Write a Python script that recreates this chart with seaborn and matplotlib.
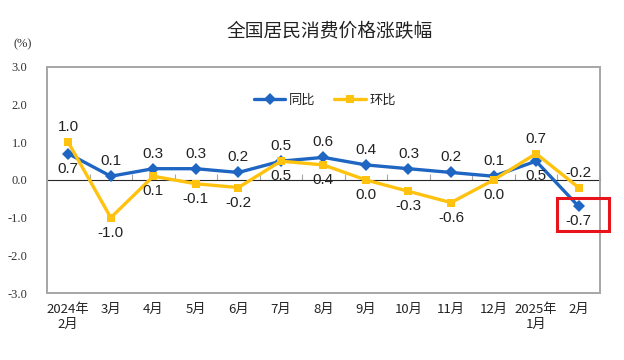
import matplotlib
matplotlib.use("Agg")
import matplotlib.pyplot as plt
from matplotlib.patches import Rectangle
import seaborn as sns
import pandas as pd

# CPI change, %
months = ["2024年\n2月", "3月", "4月", "5月", "6月", "7月", "8月", "9月",
          "10月", "11月", "12月", "2025年\n1月", "2月"]
yoy = [0.7, 0.1, 0.3, 0.3, 0.2, 0.5, 0.6, 0.4, 0.3, 0.2, 0.1, 0.5, -0.7]   # 同比
mom = [1.0, -1.0, 0.1, -0.1, -0.2, 0.5, 0.4, 0.0, -0.3, -0.6, 0.0, 0.7, -0.2]  # 环比

blue = "#1f66c2"
yellow = "#ffc20e"
grey = "#a6a6a6"
cjk = ["Noto Sans CJK SC", "DejaVu Sans"]

sns.set_style("white")
plt.rcParams["font.family"] = cjk

df = pd.DataFrame({"x": range(len(months)), "同比": yoy, "环比": mom})

fig = plt.figure(figsize=(6.24, 3.6), dpi=100)
ax = fig.add_axes([0.0753, 0.186, 0.886, 0.628])

sns.lineplot(data=df, x="x", y="同比", ax=ax, color=blue, lw=2.4,
             marker="D", markersize=6, markeredgewidth=0, label="同比")
sns.lineplot(data=df, x="x", y="环比", ax=ax, color=yellow, lw=2.4,
             marker="s", markersize=6, markeredgewidth=0, label="环比")

ax.set_xlim(-0.5, len(months) - 0.5)
ax.set_ylim(-3, 3)
ax.set_xlabel("")
ax.set_ylabel("")

# box
for s in ax.spines.values():
    s.set_color(grey)
    s.set_linewidth(1.4)

# y axis
ax.set_yticks([-3, -2, -1, 0, 1, 2, 3])
ax.set_yticklabels([f"{v:.1f}" for v in [-3, -2, -1, 0, 1, 2, 3]],
                   family=["Liberation Serif"], fontsize=9, color="#333333")
ax.tick_params(axis="y", direction="in", length=4, color=grey, pad=14)

# x axis labels under the box
ax.set_xticks(range(len(months)))
ax.set_xticklabels(months, fontsize=9.5, color="#222222", linespacing=1.2)
ax.tick_params(axis="x", length=0, pad=7)

# zero line with category tick marks
zero = ax.secondary_xaxis(0.5)
zero.set_xticks([i - 0.5 for i in range(len(months) + 1)])
zero.set_xticklabels([])
zero.tick_params(direction="out", length=4, color=grey)
zero.spines["bottom"].set_color(grey)
zero.spines["bottom"].set_linewidth(1.4)

# data labels
lab_font = dict(family=["Liberation Sans"], fontsize=11, color="#222222",
                ha="center", va="center")
for i, (b, y) in enumerate(zip(yoy, mom)):
    off = 15 if b >= y else -15
    ax.annotate(f"{b:.1f}", (i, b), xytext=(0, off), textcoords="offset pixels", **lab_font)
    ax.annotate(f"{y:.1f}", (i, y), xytext=(0, -off), textcoords="offset pixels", **lab_font)

# highlight of the latest month
last = len(months) - 1
ax.add_patch(Rectangle((last - 0.5, yoy[last] - 0.65), 1.22, 0.87,
                       fill=False, ec="#e8141c", lw=2.2, clip_on=False, zorder=5))

leg = ax.legend(loc="center", bbox_to_anchor=(0.503, 0.854), ncol=2, frameon=False,
                fontsize=9.5, handlelength=2.4, columnspacing=1.4, handletextpad=0.3)

fig.text(330 / 624, 1 - 32 / 360, "全国居民消费价格涨跌幅", ha="center", va="center",
         fontsize=13.5, color="#222222")
fig.text(14 / 624, 1 - 44 / 360, "(%)", ha="left", va="center",
         family=["Liberation Serif"], fontsize=9, color="#333333")

fig.savefig("out.png", dpi=100)
